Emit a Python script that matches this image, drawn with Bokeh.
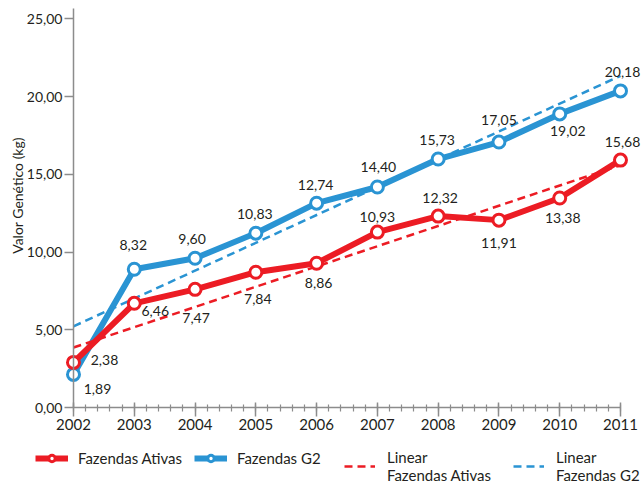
from math import pi
from bokeh.plotting import figure
from bokeh.models import (ColumnDataSource, Range1d, SingleIntervalTicker, LinearAxis,
                          CustomJSTickFormatter, Label, Legend, LegendItem)
from bokeh.core.properties import value
from bokeh.embed import file_html
from bokeh.resources import INLINE

# ---- data ----
years = [2002, 2003, 2004, 2005, 2006, 2007, 2008, 2009, 2010, 2011]
ativas = [2.90, 6.70, 7.60, 8.70, 9.28, 11.28, 12.31, 12.05, 13.47, 15.91]
g2 = [2.13, 8.89, 9.60, 11.21, 13.14, 14.18, 15.98, 17.07, 18.88, 20.36]
labels_ativas = ["2,38", "6,46", "7,47", "7,84", "8,86", "10,93", "12,32", "11,91", "13,38", "15,68"]
labels_g2 = ["1,89", "8,32", "9,60", "10,83", "12,74", "14,40", "15,73", "17,05", "19,02", "20,18"]
trend_years = [2002, 2011]
trend_ativas = [3.86, 15.58]
trend_g2 = [5.22, 21.33]
y_title = "Valor Genético (kg)"
series_names = ["Fazendas Ativas", "Fazendas G2", "Linear\nFazendas Ativas", "Linear\nFazendas G2"]

# label placement (screen px offsets from the point)
dx_ativas = [31, 21, 1, 2, 2, 0, 2, 0, 3, 2]
dy_ativas = [-2, 8, 29, 27, 20, -15, -18, 23, 20, -18]
dx_g2 = [24, -1, -3, -1, -1, 1, -1, 0, 8, 2]
dy_g2 = [15, -24, -19, -19, -18, -20, -19, -22, 17, -19]

RED = "#ec1c24"
BLUE = "#2a94d3"
GRID = "#8c8c8c"
TXT = "#231f20"
FONT = "Lato"

p = figure(width=642, height=483, output_backend="svg", toolbar_location=None,
           x_range=Range1d(2000.799, 2011.362), y_range=Range1d(-4.887, 26.174),
           min_border=0, x_axis_type=None, y_axis_type=None)
p.outline_line_color = None
p.background_fill_color = "white"

# axes (drawn at fixed positions inside the frame)
xaxis = LinearAxis(ticker=SingleIntervalTicker(interval=1, num_minor_ticks=5),
                   bounds=(2002, 2011), fixed_location=0)
xaxis.axis_line_color = GRID
xaxis.axis_line_width = 1.5
xaxis.major_tick_line_color = GRID
xaxis.major_tick_line_width = 1.5
xaxis.minor_tick_line_color = GRID
xaxis.minor_tick_line_width = 1.2
xaxis.major_tick_in = 5
xaxis.major_tick_out = 9
xaxis.minor_tick_in = 3
xaxis.minor_tick_out = 4
xaxis.major_label_standoff = 2
xaxis.major_label_text_font = FONT
xaxis.major_label_text_font_size = "15px"
xaxis.major_label_text_color = TXT
p.add_layout(xaxis, "below")

yticker = SingleIntervalTicker(interval=5, num_minor_ticks=0)
yaxis = LinearAxis(ticker=yticker, bounds=(0, 25.66), fixed_location=2002,
                   formatter=CustomJSTickFormatter(code="return tick.toFixed(2).replace('.', ',')"))
yaxis.axis_line_color = GRID
yaxis.axis_line_width = 1.5
yaxis.major_tick_line_color = GRID
yaxis.major_tick_line_width = 1.5
yaxis.minor_tick_line_color = None
yaxis.major_tick_in = 0
yaxis.major_tick_out = 9
yaxis.major_label_standoff = 2
yaxis.major_label_text_font = FONT
yaxis.major_label_text_font_size = "14px"
yaxis.major_label_text_color = TXT
p.add_layout(yaxis, "left")

p.xgrid.visible = False
p.ygrid.ticker = yticker
p.ygrid.grid_line_color = GRID
p.ygrid.grid_line_width = 1.4
p.ygrid.bounds = (0, 25)
p.ygrid.cross_bounds = (2002, 2011.115)

src_a = ColumnDataSource(dict(x=years, y=ativas, t=labels_ativas, dx=dx_ativas, dy=dy_ativas))
src_g = ColumnDataSource(dict(x=years, y=g2, t=labels_g2, dx=dx_g2, dy=dy_g2))

lg = p.line("x", "y", source=src_g, line_color=BLUE, line_width=6)
la = p.line("x", "y", source=src_a, line_color=RED, line_width=6)
tg = p.line(trend_years, trend_g2, line_color=BLUE, line_width=2.5, line_dash="8 5")
ta = p.line(trend_years, trend_ativas, line_color=RED, line_width=2.5, line_dash="8 5")
sg = p.scatter("x", "y", source=src_g, size=12, marker="circle", fill_color="white",
               line_color=BLUE, line_width=3)
sa = p.scatter("x", "y", source=src_a, size=12, marker="circle", fill_color="white",
               line_color=RED, line_width=3)

for src in (src_g, src_a):
    p.text("x", "y", text="t", source=src, x_offset="dx", y_offset="dy",
           text_align="center", text_baseline="middle", text_font=value(FONT),
           text_font_size="14px", text_color=TXT)

p.add_layout(Label(x=17, y=288, x_units="screen", y_units="screen", text=y_title,
                   angle=pi / 2, text_align="center", text_baseline="middle",
                   text_font=FONT, text_font_size="14px", text_color=TXT))

common = dict(orientation="horizontal", glyph_height=16, padding=0, margin=0,
              border_line_color=None, background_fill_alpha=0,
              label_text_font=FONT, label_text_font_size="15px", label_text_color=TXT,
              label_text_align="left")

legend_a = Legend(items=[LegendItem(label=series_names[0], renderers=[la, sa]),
                         LegendItem(label=series_names[1], renderers=[lg, sg])],
                  location=(35, 16), glyph_width=33, label_standoff=10, spacing=12, **common)
legend_b = Legend(items=[LegendItem(label=series_names[2], renderers=[ta]),
                         LegendItem(label=series_names[3], renderers=[tg])],
                  location=(344, -1), glyph_width=31, label_standoff=12, spacing=22, **common)
p.add_layout(legend_a, "center")
p.add_layout(legend_b, "center")

open("out.html", "w").write(file_html(p, INLINE))
